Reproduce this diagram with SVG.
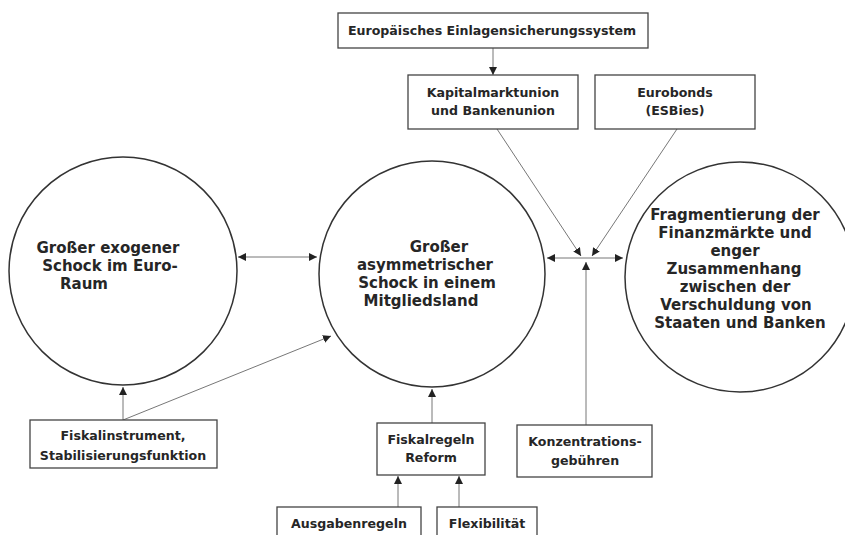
<svg xmlns="http://www.w3.org/2000/svg" width="845" height="535" viewBox="0 0 845 535">
<style>
.c{fill:#fff;stroke:#333;stroke-width:1.5}
.b{fill:#fff;stroke:#444;stroke-width:1.3}
.t{font-family:"DejaVu Sans","Liberation Sans",sans-serif;font-weight:bold;font-size:12.6px;fill:#262626;text-anchor:middle}
.ct{font-size:15px}
.l{fill:none;stroke:#777;stroke-width:1}
</style>
<defs>
<marker id="ah" viewBox="0 0 10 10" refX="10" refY="5" markerWidth="8" markerHeight="8" markerUnits="userSpaceOnUse" orient="auto-start-reverse">
<path d="M0,0 L10,5 L0,10 z" fill="#222"/>
</marker>
</defs>
<rect width="845" height="535" fill="#fff"/>
<g id="connectors">
<line class="l" x1="493" y1="48" x2="493" y2="75" marker-end="url(#ah)"/>
<line class="l" x1="497" y1="129" x2="581" y2="256" marker-end="url(#ah)"/>
<line class="l" x1="677" y1="129" x2="592" y2="256" marker-end="url(#ah)"/>
<line class="l" x1="547" y1="258" x2="623" y2="258" marker-start="url(#ah)" marker-end="url(#ah)"/>
<line class="l" x1="586" y1="425" x2="586" y2="262" marker-end="url(#ah)"/>
<line class="l" x1="238" y1="257" x2="317" y2="257" marker-start="url(#ah)" marker-end="url(#ah)"/>
<line class="l" x1="123" y1="420" x2="123" y2="387" marker-end="url(#ah)"/>
<line class="l" x1="123" y1="420" x2="331" y2="336" marker-end="url(#ah)"/>
<line class="l" x1="432" y1="423" x2="432" y2="389" marker-end="url(#ah)"/>
<line class="l" x1="398" y1="507" x2="398" y2="476" marker-end="url(#ah)"/>
<line class="l" x1="459" y1="507" x2="459" y2="476" marker-end="url(#ah)"/>
</g>
<g id="n-exogen">
<circle class="c" cx="123" cy="271" r="114"/>
<text class="t ct" x="108" y="253">Großer exogener</text>
<text class="t ct" x="110" y="271">Schock im Euro-</text>
<text class="t ct" x="84" y="289">Raum</text>
</g>
<g id="n-asym">
<circle class="c" cx="432" cy="274" r="113"/>
<text class="t ct" x="439" y="252">Großer</text>
<text class="t ct" x="425" y="270">asymmetrischer</text>
<text class="t ct" x="427" y="288">Schock in einem</text>
<text class="t ct" x="421" y="306">Mitgliedsland</text>
</g>
<g id="n-frag">
<circle class="c" cx="740" cy="277" r="115"/>
<text class="t ct" x="735" y="220">Fragmentierung der</text>
<text class="t ct" x="735" y="238">Finanzmärkte und</text>
<text class="t ct" x="735" y="256">enger</text>
<text class="t ct" x="734" y="274">Zusammenhang</text>
<text class="t ct" x="735" y="292">zwischen der</text>
<text class="t ct" x="736" y="310">Verschuldung von</text>
<text class="t ct" x="740" y="328">Staaten und Banken</text>
</g>
<g id="n-edis">
<rect class="b" x="338" y="13" width="310" height="35"/>
<text class="t" x="492" y="35">Europäisches Einlagensicherungssystem</text>
</g>
<g id="n-kmu">
<rect class="b" x="408" y="75" width="170" height="54"/>
<text class="t" x="493" y="97">Kapitalmarktunion</text>
<text class="t" x="493" y="115">und Bankenunion</text>
</g>
<g id="n-euro">
<rect class="b" x="595" y="75" width="160" height="54"/>
<text class="t" x="675" y="97">Eurobonds</text>
<text class="t" x="675" y="115">(ESBies)</text>
</g>
<g id="n-fiskinst">
<rect class="b" x="30" y="420" width="187" height="48"/>
<text class="t" x="123" y="440">Fiskalinstrument,</text>
<text class="t" x="123" y="460">Stabilisierungsfunktion</text>
</g>
<g id="n-fiskreg">
<rect class="b" x="377" y="423" width="108" height="52"/>
<text class="t" x="431" y="444">Fiskalregeln</text>
<text class="t" x="431" y="462">Reform</text>
</g>
<g id="n-konz">
<rect class="b" x="517" y="425" width="135" height="52"/>
<text class="t" x="585" y="446">Konzentrations-</text>
<text class="t" x="585" y="465">gebühren</text>
</g>
<g id="n-ausg">
<rect class="b" x="277" y="507" width="144" height="40"/>
<text class="t" x="349" y="528">Ausgabenregeln</text>
</g>
<g id="n-flex">
<rect class="b" x="437" y="507" width="100" height="40"/>
<text class="t" x="487" y="528">Flexibilität</text>
</g>
</svg>
